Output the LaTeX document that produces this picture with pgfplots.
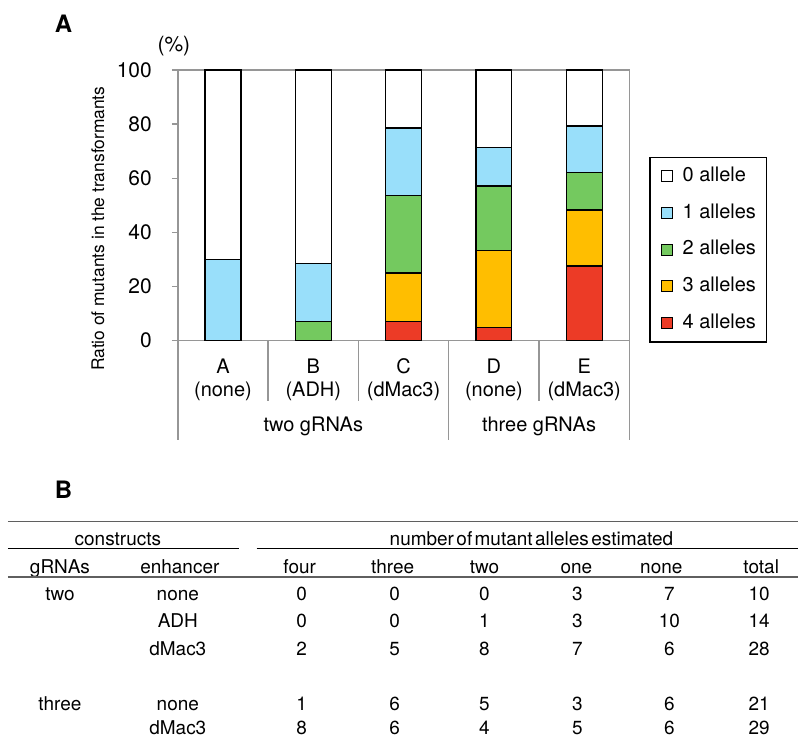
\documentclass[border=0pt]{standalone}
\usepackage{fontspec}
\setmainfont{TeX Gyre Heros}
\usepackage{pgfplots}
\pgfplotsset{compat=1.18}
\usepackage{pgfplotstable}

\definecolor{c0}{RGB}{255,255,255}
\definecolor{c1}{RGB}{153,223,250}
\definecolor{c2}{RGB}{116,201,95}
\definecolor{c3}{RGB}{255,190,0}
\definecolor{c4}{RGB}{236,59,38}
\definecolor{frame}{RGB}{150,150,150}
\definecolor{rule}{RGB}{95,95,95}

\pgfplotstableread{
x four three two one none
0 0 0 0 30 70
1 0 0 7.14 21.43 71.43
2 7.14 17.86 28.57 25 21.43
3 4.76 28.57 23.81 14.29 28.57
4 27.59 20.69 13.79 17.24 20.69
}\datatable

\begin{document}
\begin{tikzpicture}
\begin{scope}[x=0.5pt,y=-0.5pt]
\useasboundingbox (0,0) rectangle (799,737);
\end{scope}
\begin{axis}[
  at={(89pt,-170.5pt)}, anchor=south west,
  scale only axis, width=226pt, height=135.5pt,
  xmin=-0.5, xmax=4.5, ymin=0, ymax=100,
  clip=false,
  ybar stacked, bar width=18pt,
  axis line style={draw=frame, line width=0.7pt},
  ytick={0,20,...,100},
  ytick pos=left,
  xtick={0,...,4},
  xticklabels={{A\\(none)},{B\\(ADH)},{C\\(dMac3)},{D\\(none)},{E\\(dMac3)}},
  xticklabel style={align=center, font=\fontsize{10}{11.5}\selectfont, anchor=north, yshift=-2.5pt},
  x tick style={draw=none},
  y tick style={draw=frame, line width=0.7pt},
  tick align=outside, major tick length=3pt,
  yticklabel style={font=\fontsize{10.5}{12}\selectfont, xshift=-6.5pt},
  /pgf/number format/assume math mode=true,
  every axis plot/.append style={draw=black, line width=0.6pt},
  reverse legend,
  legend cell align=left,
  legend image code/.code={\draw[#1, line width=0.5pt] (0pt,-2.75pt) rectangle (5.5pt,2.75pt); \path (10.5pt,0pt);},
  legend style={at={(1.0442,0.679)}, anchor=north west, draw=black, line width=0.6pt,
    font=\fontsize{10}{12}\selectfont,
    nodes={inner sep=0pt, text height=7pt, text depth=2pt},
    row sep=9.35pt, inner xsep=5.35pt, inner ysep=5pt},
]
\addplot[fill=c4] table[x=x,y=four] {\datatable};
\addplot[fill=c3] table[x=x,y=three] {\datatable};
\addplot[fill=c2] table[x=x,y=two] {\datatable};
\addplot[fill=c1] table[x=x,y=one] {\datatable};
\addplot[fill=c0] table[x=x,y=none] {\datatable};
\legend{4 alleles,3 alleles,2 alleles,1 alleles,0 allele}
\draw[frame, line width=0.7pt] (axis cs:-0.5,0) -- ++(0pt,-49.5pt);
\draw[frame, line width=0.7pt] (axis cs:0.5,0) -- ++(0pt,-30pt);
\draw[frame, line width=0.7pt] (axis cs:1.5,0) -- ++(0pt,-30pt);
\draw[frame, line width=0.7pt] (axis cs:2.5,0) -- ++(0pt,-49.5pt);
\draw[frame, line width=0.7pt] (axis cs:3.5,0) -- ++(0pt,-30pt);
\draw[frame, line width=0.7pt] (axis cs:4.5,0) -- ++(0pt,-49.5pt);
\node[font=\fontsize{10}{12}\selectfont] at (axis cs:1,0) [yshift=-43pt] {two gRNAs};
\node[font=\fontsize{10}{12}\selectfont] at (axis cs:3.5,0) [yshift=-43pt] {three gRNAs};
\end{axis}
\begin{scope}[x=0.5pt,y=-0.5pt]
% panel A annotations
\node[font=\fontsize{12}{14}\selectfont\bfseries] at (63.5,23.5) {A};
\node[font=\fontsize{10.5}{12}\selectfont] at (174,46) {(\%)};
\node[font=\fontsize{8.7}{10}\selectfont, rotate=90] at (98,229) {Ratio of mutants in the transformants};
% panel B
\node[font=\fontsize{12}{14}\selectfont\bfseries] at (63.5,490) {B};
\begin{scope}[every node/.style={font=\fontsize{9.5}{11}\selectfont, anchor=base, inner sep=0pt}]
\draw[rule, line width=0.8pt] (8,522) -- (799,522);
\node at (118,546.5) {constructs};
\draw[black, line width=0.5pt] (8,549) -- (239,549);
\node at (532,546.5) {number\hspace{1.2pt}of\hspace{1.2pt}mutant\hspace{1.2pt}alleles\hspace{1.2pt}estimated};
\draw[black, line width=0.5pt] (257,549) -- (799,549);
\node at (60,574) {gRNAs};
\node at (180,574) {enhancer};
\node at (300,574) {four};
\node at (393,574) {three};
\node at (485,574) {two};
\node at (577,574) {one};
\node at (662,574) {none};
\node at (762,574) {total};
\draw[rule, line width=0.8pt] (8,577.5) -- (799,577.5);
% rows
\node at (60,601) {two};   \node at (178,601) {none};
\node at (302,601) {0}; \node at (395,601) {0}; \node at (485,601) {0}; \node at (578,601) {3}; \node at (670,601) {7}; \node at (760,601) {10};
\node at (178,628.5) {ADH};
\node at (302,628.5) {0}; \node at (395,628.5) {0}; \node at (485,628.5) {1}; \node at (578,628.5) {3}; \node at (670,628.5) {10}; \node at (760,628.5) {14};
\node at (178,656) {dMac3};
\node at (302,656) {2}; \node at (395,656) {5}; \node at (485,656) {8}; \node at (578,656) {7}; \node at (670,656) {6}; \node at (760,656) {28};
\node at (60,711) {three}; \node at (178,711) {none};
\node at (302,711) {1}; \node at (395,711) {6}; \node at (485,711) {5}; \node at (578,711) {3}; \node at (670,711) {6}; \node at (760,711) {21};
\node at (178,735.5) {dMac3};
\node at (302,735.5) {8}; \node at (395,735.5) {6}; \node at (485,735.5) {4}; \node at (578,735.5) {5}; \node at (670,735.5) {6}; \node at (760,735.5) {29};
\end{scope}
\end{scope}
\end{tikzpicture}
\end{document}
